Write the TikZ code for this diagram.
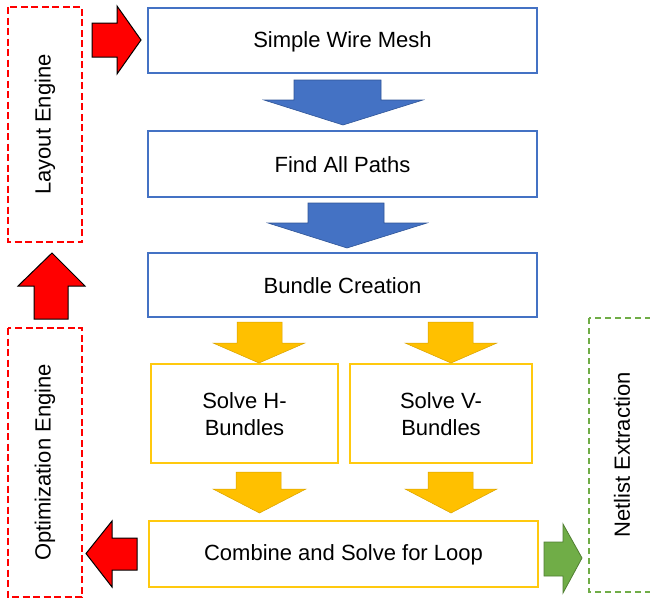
\documentclass[tikz,border=0pt]{standalone}
\usepackage{fontspec}
\setmainfont{Liberation Sans}
\definecolor{oblue}{HTML}{4472C4}
\definecolor{oblued}{HTML}{2F5597}
\definecolor{oyel}{HTML}{FFC000}
\definecolor{oyelb}{HTML}{FFC90E}
\definecolor{ogreen}{HTML}{70AD47}
\definecolor{ogreend}{HTML}{507E32}
\tikzset{
  bluebox/.style={draw=oblue, line width=1.2pt, fill=white},
  yelbox/.style={draw=oyelb, line width=1.2pt, fill=white},
  redbox/.style={draw=red, dash pattern=on 7pt off 3.5pt, line width=1.1pt},
  greenbox/.style={draw=ogreen, dash pattern=on 6pt off 4pt, line width=1.1pt},
  bluearrow/.style={fill=oblue, draw=oblued, line width=0.6pt, line join=miter},
  yelarrow/.style={fill=oyel, draw=oyel!85!black, line width=0.5pt},
  redarrow/.style={fill=red, draw=black, line width=1pt},
  greenarrow/.style={fill=ogreen, draw=ogreend, line width=0.8pt},
  lbl/.style={font=\fontsize{22}{27}\selectfont, align=center, text=black}
}
\begin{document}
\begin{tikzpicture}[x=1pt,y=-1pt]
\useasboundingbox (0,0) rectangle (650,600);
\clip (0,0) rectangle (650,600);
% main boxes
\draw[bluebox] (148,8) rectangle (537,73);
\node[lbl] (swm) at (342.5,41.5) {Simple Wire Mesh};
\draw[bluebox] (148,131) rectangle (537,197);
\node[lbl] (fap) at (342.5,165) {Find All Paths};
\draw[bluebox] (148,253) rectangle (537,317);
\node[lbl] (bc) at (342.5,286) {Bundle Creation};
\draw[yelbox] (151,364) rectangle (338,463);
\node[lbl] (sh) at (244.5,414) {Solve H-\\Bundles};
\draw[yelbox] (350,364) rectangle (532,463);
\node[lbl] (sv) at (441,414) {Solve V-\\Bundles};
\draw[yelbox] (149,521) rectangle (538,587);
\node[lbl] (cs) at (343.5,555) {Combine and Solve for Loop};
% side boxes
\draw[redbox] (8,7) rectangle (82,242);
\node[lbl, rotate=90] (le) at (45,124.5) {Layout Engine};
\draw[redbox] (8,328) rectangle (82,597);
\node[lbl, rotate=90] (oe) at (45,462.5) {Optimization Engine};
\draw[greenbox] (589,318) rectangle (656,592);
\node[lbl, rotate=90] (ne) at (622,455) {Netlist Extraction};
% blue arrows
\draw[bluearrow] (294,80) -- (381,80) -- (381,100) -- (423,100) -- (343,125) -- (264,100) -- (294,100) -- cycle;
\draw[bluearrow] (308,203) -- (384,203) -- (384,223) -- (427,223) -- (347,248) -- (268,223) -- (308,223) -- cycle;
% yellow arrows
\draw[yelarrow] (237,322) -- (282,322) -- (282,343) -- (305,343) -- (259,363) -- (213,343) -- (237,343) -- cycle;
\draw[yelarrow] (428,322) -- (473,322) -- (473,343) -- (497,343) -- (451,363) -- (405,343) -- (428,343) -- cycle;
\draw[yelarrow] (236,472) -- (281,472) -- (281,489) -- (306,489) -- (259.5,513) -- (213,489) -- (236,489) -- cycle;
\draw[yelarrow] (428,472) -- (473,472) -- (473,489) -- (497,489) -- (451,513) -- (405,489) -- (428,489) -- cycle;
% red arrows
\draw[redarrow] (92,23) -- (117,23) -- (117,6) -- (141,40) -- (117,74) -- (117,57) -- (92,57) -- cycle;
\draw[redarrow] (34,319) -- (34,286) -- (18,286) -- (52,253) -- (85,286) -- (68,286) -- (68,319) -- cycle;
\draw[redarrow] (137,538) -- (112,538) -- (112,521) -- (86,553.5) -- (112,587) -- (112,570) -- (137,570) -- cycle;
% green arrow
\draw[greenarrow] (544,542) -- (563,542) -- (563,524) -- (582,558) -- (563,593) -- (563,576) -- (544,576) -- cycle;
\end{tikzpicture}
\end{document}
